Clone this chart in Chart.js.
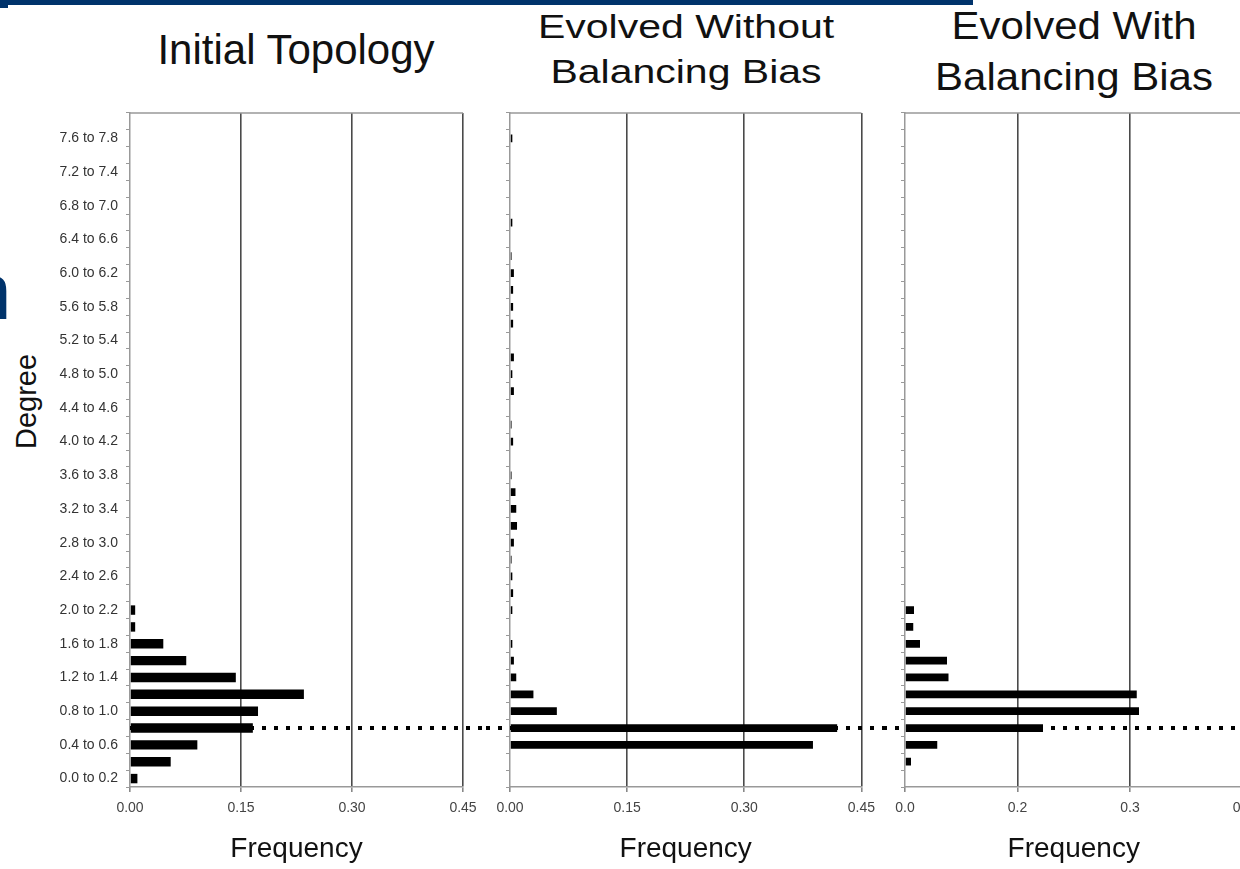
<!DOCTYPE html>
<html>
<head>
<meta charset="utf-8">
<script src="https://cdn.jsdelivr.net/npm/chart.js@4.4.1/dist/chart.umd.min.js"></script>
<style>
  html, body { margin: 0; padding: 0; background: #fff; }
  body { width: 1240px; height: 869px; position: relative; overflow: hidden; font-family: 'Liberation Sans', Arial, sans-serif; }
  canvas { position: absolute; top: 0; }
  .title { position: absolute; text-align: center; color: #111; white-space: nowrap; transform-origin: 50% 0; }
  #topbar { position: absolute; left: 0; top: 0; width: 973px; height: 5px; background: #00336b; }
  #corner { position: absolute; left: 0; top: 5px; width: 8px; height: 3px; background: #00336b; }
  #slideText { position: absolute; left: -33px; top: 252px; font-size: 80px; line-height: 80px; color: #00336b; }
  #degree { position: absolute; left: -34px; top: 387px; width: 120px; text-align: center; font-size: 29px; line-height: 29px; color: #111; transform: rotate(-90deg); }
</style>
</head>
<body>
<div id="topbar"></div>
<div id="corner"></div>
<div id="slideText">n</div>

<div class="title" style="left:96px; width:400px; top:29px; font-size:42px; line-height:42px;">Initial Topology</div>
<div class="title" style="left:486px; width:400px; top:11px; font-size:41px; line-height:41px; transform:scaleY(0.79);">Evolved Without</div>
<div class="title" style="left:486px; width:400px; top:56px; font-size:41px; line-height:41px; transform:scaleY(0.79);">Balancing Bias</div>
<div class="title" style="left:874px; width:400px; top:7px; font-size:42px; line-height:42px; transform:scaleY(0.91);">Evolved With</div>
<div class="title" style="left:874px; width:400px; top:58px; font-size:42px; line-height:42px; transform:scaleY(0.91);">Balancing Bias</div>
<div id="degree">Degree</div>

<canvas id="initialChart" width="486" height="869" style="left:0px"></canvas>
<canvas id="noBiasChart" width="397" height="869" style="left:486px"></canvas>
<canvas id="biasChart" width="420" height="869" style="left:883px"></canvas>

<script>
// degree bins, bottom to top
const degreeBins = [
  '0.0 to 0.2', '0.2 to 0.4', '0.4 to 0.6', '0.6 to 0.8', '0.8 to 1.0',
  '1.0 to 1.2', '1.2 to 1.4', '1.4 to 1.6', '1.6 to 1.8', '1.8 to 2.0',
  '2.0 to 2.2', '2.2 to 2.4', '2.4 to 2.6', '2.6 to 2.8', '2.8 to 3.0',
  '3.0 to 3.2', '3.2 to 3.4', '3.4 to 3.6', '3.6 to 3.8', '3.8 to 4.0',
  '4.0 to 4.2', '4.2 to 4.4', '4.4 to 4.6', '4.6 to 4.8', '4.8 to 5.0',
  '5.0 to 5.2', '5.2 to 5.4', '5.4 to 5.6', '5.6 to 5.8', '5.8 to 6.0',
  '6.0 to 6.2', '6.2 to 6.4', '6.4 to 6.6', '6.6 to 6.8', '6.8 to 7.0',
  '7.0 to 7.2', '7.2 to 7.4', '7.4 to 7.6', '7.6 to 7.8', '7.8 to 8.0'
];

const initialFreq = [
  0.010, 0.055, 0.091, 0.166, 0.173, 0.235, 0.143, 0.076, 0.045, 0.007,
  0.007, 0, 0, 0, 0, 0, 0, 0, 0, 0,
  0, 0, 0, 0, 0, 0, 0, 0, 0, 0,
  0, 0, 0, 0, 0, 0, 0, 0, 0, 0
];

const noBiasFreq = [
  0, 0, 0.388, 0.419, 0.060, 0.030, 0.008, 0.005, 0.003, 0,
  0.003, 0.004, 0.003, 0.002, 0.005, 0.009, 0.008, 0.007, 0.002, 0,
  0.004, 0.002, 0, 0.005, 0.003, 0.005, 0, 0.004, 0.004, 0.004,
  0.005, 0.002, 0, 0.003, 0, 0, 0, 0, 0.003, 0
];

const biasFreq = [
  0, 0.008, 0.043, 0.184, 0.312, 0.309, 0.058, 0.056, 0.020, 0.011,
  0.012, 0, 0, 0, 0, 0, 0, 0, 0, 0,
  0, 0, 0, 0, 0, 0, 0, 0, 0, 0,
  0, 0, 0, 0, 0, 0, 0, 0, 0, 0
];

const freqTicks = ['0.00', '0.15', '0.30', '0.45'];
const freqTicksShort = ['0.0', '0.2', '0.3', '0.5'];
const refBin = '0.6 to 0.8';   // dotted line

Chart.defaults.font.family = "'Liberation Sans', Arial, sans-serif";

// top border + dotted reference line (drawn under the bars)
const frame = {
  id: 'frame',
  beforeDatasetsDraw(chart, args, opts) {
    const { ctx, chartArea: a } = chart;
    const y = chart.scales.y;
    ctx.save();
    ctx.strokeStyle = '#999';
    ctx.lineWidth = 1.5;
    ctx.beginPath();
    ctx.moveTo(a.left, a.top);
    ctx.lineTo(a.right, a.top);
    ctx.stroke();

    const yy = y.getPixelForValue(degreeBins.indexOf(refBin));
    ctx.strokeStyle = '#000';
    ctx.lineWidth = 4;
    ctx.setLineDash([4, 8]);
    ctx.beginPath();
    ctx.moveTo(opts.fromAxis ? a.left : 0, yy);
    ctx.lineTo(chart.width, yy);
    ctx.stroke();
    ctx.restore();
  }
};

function makeChart(id, values, cfg) {
  return new Chart(document.getElementById(id), {
    type: 'bar',
    data: {
      labels: degreeBins,
      datasets: [{
        data: values,
        backgroundColor: '#000',
        barPercentage: cfg.bar,
        categoryPercentage: 1
      }]
    },
    options: {
      indexAxis: 'y',
      responsive: false,
      animation: false,
      layout: { padding: { top: 113, right: cfg.right, bottom: 0, left: 0 } },
      plugins: {
        legend: { display: false },
        tooltip: { enabled: false },
        frame: { fromAxis: cfg.fromAxis }
      },
      scales: {
        x: {
          min: 0,
          max: 0.45,
          ticks: {
            stepSize: 0.15,
            color: '#444',
            font: { size: 14 },
            padding: 8,
            callback: (v, i) => cfg.ticks[i]
          },
          grid: {
            color: c => c.index === 0 ? 'rgba(0,0,0,0)' : '#4a4a4a',
            lineWidth: 1.6,
            tickLength: 5,
            tickColor: '#888'
          },
          border: { color: '#999', width: 1.5 },
          title: {
            display: true,
            text: 'Frequency',
            color: '#111',
            font: { size: 28 },
            padding: { top: 0, bottom: 3 }
          },
          afterFit: s => { s.height = 82; }
        },
        y: {
          reverse: true,
          ticks: {
            autoSkip: false,
            color: '#333',
            font: { size: 14 },
            padding: 8,
            callback: (v, i) => (cfg.yLabels && i % 2 === 0) ? degreeBins[i] : ''
          },
          grid: { drawOnChartArea: false, tickLength: 4, color: '#999' },
          border: { color: '#999', width: 1.5 },
          afterFit: s => { s.width = cfg.yWidth; }
        }
      }
    },
    plugins: [frame]
  });
}

makeChart('initialChart', initialFreq, { bar: 0.56, right: 23, yWidth: 130, yLabels: true, fromAxis: true, ticks: freqTicks });
makeChart('noBiasChart', noBiasFreq, { bar: 0.46, right: 21, yWidth: 24, yLabels: false, fromAxis: false, ticks: freqTicks });
makeChart('biasChart', biasFreq, { bar: 0.46, right: 60.5, yWidth: 22, yLabels: false, fromAxis: false, ticks: freqTicksShort });
</script>
</body>
</html>
